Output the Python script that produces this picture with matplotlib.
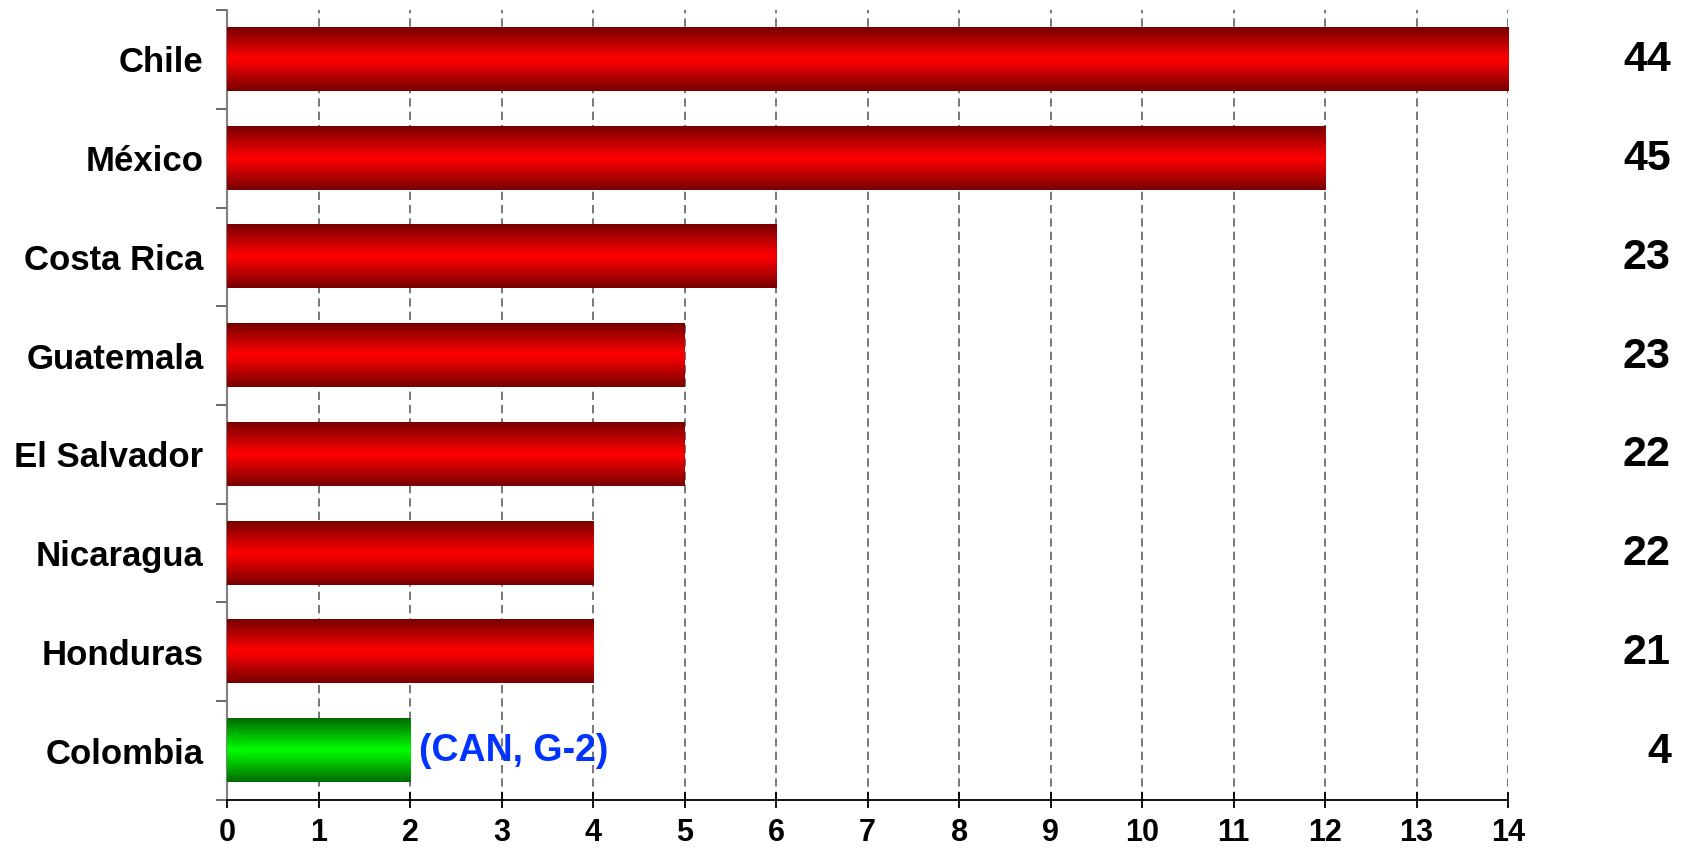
import numpy as np
import matplotlib
matplotlib.use('Agg')
import matplotlib.pyplot as plt
from matplotlib.colors import LinearSegmentedColormap

plt.rcParams['font.family'] = ['Liberation Sans', 'DejaVu Sans']
plt.rcParams['font.weight'] = 'bold'

# Data
countries = ['Chile', 'México', 'Costa Rica', 'Guatemala', 'El Salvador',
             'Nicaragua', 'Honduras', 'Colombia']
values = [14, 12, 6, 5, 5, 4, 4, 2]
totals = [44, 45, 23, 23, 22, 22, 21, 4]
note = '(CAN, G-2)'

fig = plt.figure(figsize=(16.82, 8.64), dpi=100)
ax = fig.add_axes([0.135, 0.0741, 0.7616, 0.9143])

n = len(countries)
ypos = np.arange(n)
h = 0.64

red = LinearSegmentedColormap.from_list('r', ['#780000', '#ff0000', '#780000'])
green = LinearSegmentedColormap.from_list('g', ['#006a00', '#00ff00', '#006a00'])
grad = np.linspace(0, 1, 256).reshape(-1, 1)

bars = ax.barh(ypos, values, height=h, color='none', edgecolor='none', zorder=3)
for i, b in enumerate(bars):
    cmap = green if countries[i] == 'Colombia' else red
    x0, y0 = b.get_x(), b.get_y()
    ax.imshow(grad, cmap=cmap, aspect='auto', zorder=3,
              extent=[x0, x0 + b.get_width(), y0 + b.get_height(), y0],
              interpolation='bilinear')

# annotation next to the green bar
ax.text(values[-1] + 0.1, ypos[-1], note, color='#0033ff', fontsize=27,
        fontweight='bold', va='center', ha='left')

# totals on the right side
tr = ax.get_yaxis_transform()
for i, t in enumerate(totals):
    ax.text(1.127, i + 0.01, str(t), transform=tr,
            fontsize=31, fontweight='bold', ha='right', va='center')

ax.set_xlim(0, 14)
ax.set_ylim(n - 0.5, -0.5)
ax.set_xticks(range(15))
ax.set_xticklabels([str(v) for v in range(15)], fontsize=22, fontweight='bold')
ax.set_yticks(ypos)
ax.set_yticklabels(countries, fontsize=25, fontweight='bold')
ax.set_yticks(np.arange(-0.5, n), minor=True)
ax.tick_params(axis='y', which='major', length=0, pad=17)
ax.tick_params(axis='y', which='minor', length=8, color='#606060', width=1.3)
ax.tick_params(axis='x', direction='inout', length=12, width=1.3, pad=7)

for x in range(1, 15):
    ax.axvline(x, color='#606060', linestyle=(0, (5, 3)), linewidth=1.2, zorder=1)

ax.spines['top'].set_visible(False)
ax.spines['right'].set_visible(False)
ax.spines['left'].set_color('#808080')
ax.spines['left'].set_linewidth(1.5)
ax.spines['bottom'].set_linewidth(1.3)

fig.savefig('out.png', dpi=100)
